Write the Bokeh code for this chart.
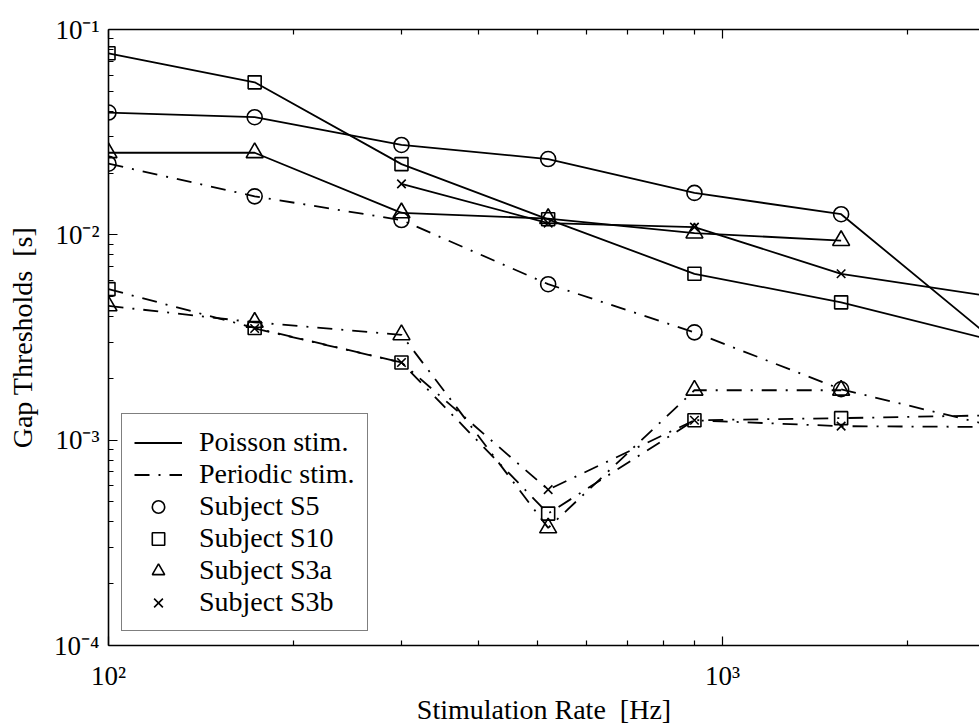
from bokeh.plotting import figure
from bokeh.models import (LogAxis, FixedTicker, Range1d, Legend, LegendItem,
                          CustomJSTickFormatter)
from bokeh.embed import file_html
from bokeh.resources import INLINE

# ---- data ----
rates = [100, 173, 300, 520, 900, 1560, 2700]

poisson_s5 = [0.0394, 0.0374, 0.0274, 0.0234, 0.0160, 0.0126, 0.00326]
poisson_s10 = [0.0766, 0.0553, 0.0221, 0.0119, 0.00646, 0.00469, 0.00311]
poisson_s3a = [0.0251, 0.0251, 0.0128, 0.0120, 0.0102, 0.00938]
poisson_s3b = [0.0177, 0.0114, 0.0109, 0.00646, 0.00504]

periodic_s5 = [0.0222, 0.0154, 0.0118, 0.00575, 0.00335, 0.00177, 0.00119]
periodic_s10 = [0.00544, 0.00352, 0.00239, 0.000439, 0.00125, 0.00128, 0.00132]
periodic_s3a = [0.00451, 0.00375, 0.00326, 0.000374, 0.00175, 0.00175]
periodic_s3b = [0.0035, 0.00239, 0.000574, 0.00125, 0.00117, 0.00116]

rates_s3a = rates[:6]
rates_s3b_poisson = rates[2:]
rates_s3b_periodic = rates[1:]

# axis ticks
x_major = [100, 1000]
x_minor = [200, 300, 400, 500, 600, 700, 800, 900, 2000]
y_major = [1e-4, 1e-3, 1e-2, 1e-1]
y_minor = [k * d for d in (1e-4, 1e-3, 1e-2) for k in range(2, 10)]

x_label = "Stimulation Rate\u00a0 [Hz]"
y_label = "Gap Thresholds\u00a0 [s]"
legend_labels = ["Poisson stim.", "Periodic stim.", "Subject S5",
                 "Subject S10", "Subject S3a", "Subject S3b"]

FONT = "Liberation Serif"
DASHDOT = "15 9 2 9"

p = figure(x_axis_type="log", y_axis_type="log",
           x_range=Range1d(100, 2621), y_range=Range1d(1e-4, 1e-1),
           width=979, height=727, output_backend="svg", toolbar_location=None,
           min_border_left=108, min_border_right=0, min_border_top=29,
           min_border_bottom=81)
p.outline_line_color = None
p.xgrid.visible = False
p.ygrid.visible = False
p.background_fill_color = "white"

fmt_code = """
const e = Math.round(Math.log10(tick));
const m = {"-":"\\u207b","0":"\\u2070","1":"\\u00b9","2":"\\u00b2","3":"\\u00b3",
           "4":"\\u2074","5":"\\u2075","6":"\\u2076","7":"\\u2077","8":"\\u2078","9":"\\u2079"};
return "10" + String(e).split("").map(c => m[c]).join("");
"""

def style_axis(ax):
    ax.axis_line_color = "black"
    ax.axis_line_width = 1.6
    ax.major_tick_in = 9
    ax.major_tick_out = 0
    ax.minor_tick_in = 5
    ax.minor_tick_out = 0
    ax.major_tick_line_color = "black"
    ax.minor_tick_line_color = "black"
    ax.major_tick_line_width = 1.2
    ax.minor_tick_line_width = 1.2
    ax.major_label_text_font = FONT
    ax.major_label_text_font_size = "27px"
    ax.major_label_text_color = "black"
    ax.axis_label_text_font = FONT
    ax.axis_label_text_font_size = "28px"
    ax.axis_label_text_font_style = "normal"
    ax.axis_label_text_color = "black"

xa = p.xaxis[0]
ya = p.yaxis[0]
style_axis(xa)
style_axis(ya)
xa.ticker = FixedTicker(ticks=x_major, minor_ticks=x_minor)
ya.ticker = FixedTicker(ticks=y_major, minor_ticks=y_minor)
xa.formatter = CustomJSTickFormatter(code=fmt_code)
ya.formatter = CustomJSTickFormatter(code=fmt_code)
xa.axis_label = x_label
ya.axis_label = y_label
xa.major_label_standoff = 15
xa.axis_label_standoff = 0
ya.major_label_standoff = 9
ya.axis_label_standoff = 13

top = LogAxis(ticker=FixedTicker(ticks=x_major, minor_ticks=x_minor))
style_axis(top)
top.major_label_text_font_size = "0px"
top.major_label_standoff = 0
top.major_label_text_alpha = 0
p.add_layout(top, "above")

# ---- lines ----
def line(xs, ys, dash):
    return p.line(xs, ys, line_color="black", line_width=1.8, line_dash=dash)

lp5 = line(rates, poisson_s5, "solid")
line(rates, poisson_s10, "solid")
line(rates_s3a, poisson_s3a, "solid")
line(rates_s3b_poisson, poisson_s3b, "solid")
lq5 = line(rates, periodic_s5, DASHDOT)
line(rates, periodic_s10, DASHDOT)
line(rates_s3a, periodic_s3a, DASHDOT)
line(rates_s3b_periodic, periodic_s3b, DASHDOT)

# ---- markers ----
def marks(xs, ys, marker, size):
    return p.scatter(xs, ys, marker=marker, size=size, fill_color=None,
                     line_color="black", line_width=1.6)

m5 = marks(rates, poisson_s5, "circle", 15)
marks(rates, periodic_s5, "circle", 15)
m10 = marks(rates, poisson_s10, "square", 13)
marks(rates, periodic_s10, "square", 13)
m3a = marks(rates_s3a, poisson_s3a, "triangle", 17)
marks(rates_s3a, periodic_s3a, "triangle", 17)
m3b = marks(rates_s3b_poisson, poisson_s3b, "x", 12)
marks(rates_s3b_periodic, periodic_s3b, "x", 12)

legend = Legend(items=[
    LegendItem(label=legend_labels[0], renderers=[lp5]),
    LegendItem(label=legend_labels[1], renderers=[lq5]),
    LegendItem(label=legend_labels[2], renderers=[m5]),
    LegendItem(label=legend_labels[3], renderers=[m10]),
    LegendItem(label=legend_labels[4], renderers=[m3a]),
    LegendItem(label=legend_labels[5], renderers=[m3b]),
], location=(13, 14))
legend.label_text_font = FONT
legend.label_text_font_size = "28px"
legend.label_text_color = "black"
legend.border_line_color = "black"
legend.border_line_width = 1.3
legend.background_fill_color = "white"
legend.background_fill_alpha = 1
legend.padding = 12
legend.spacing = 0
legend.margin = 0
legend.glyph_width = 48
legend.glyph_height = 31
legend.label_height = 31
legend.label_standoff = 17
p.add_layout(legend)

open("out.html", "w").write(file_html(p, INLINE))
